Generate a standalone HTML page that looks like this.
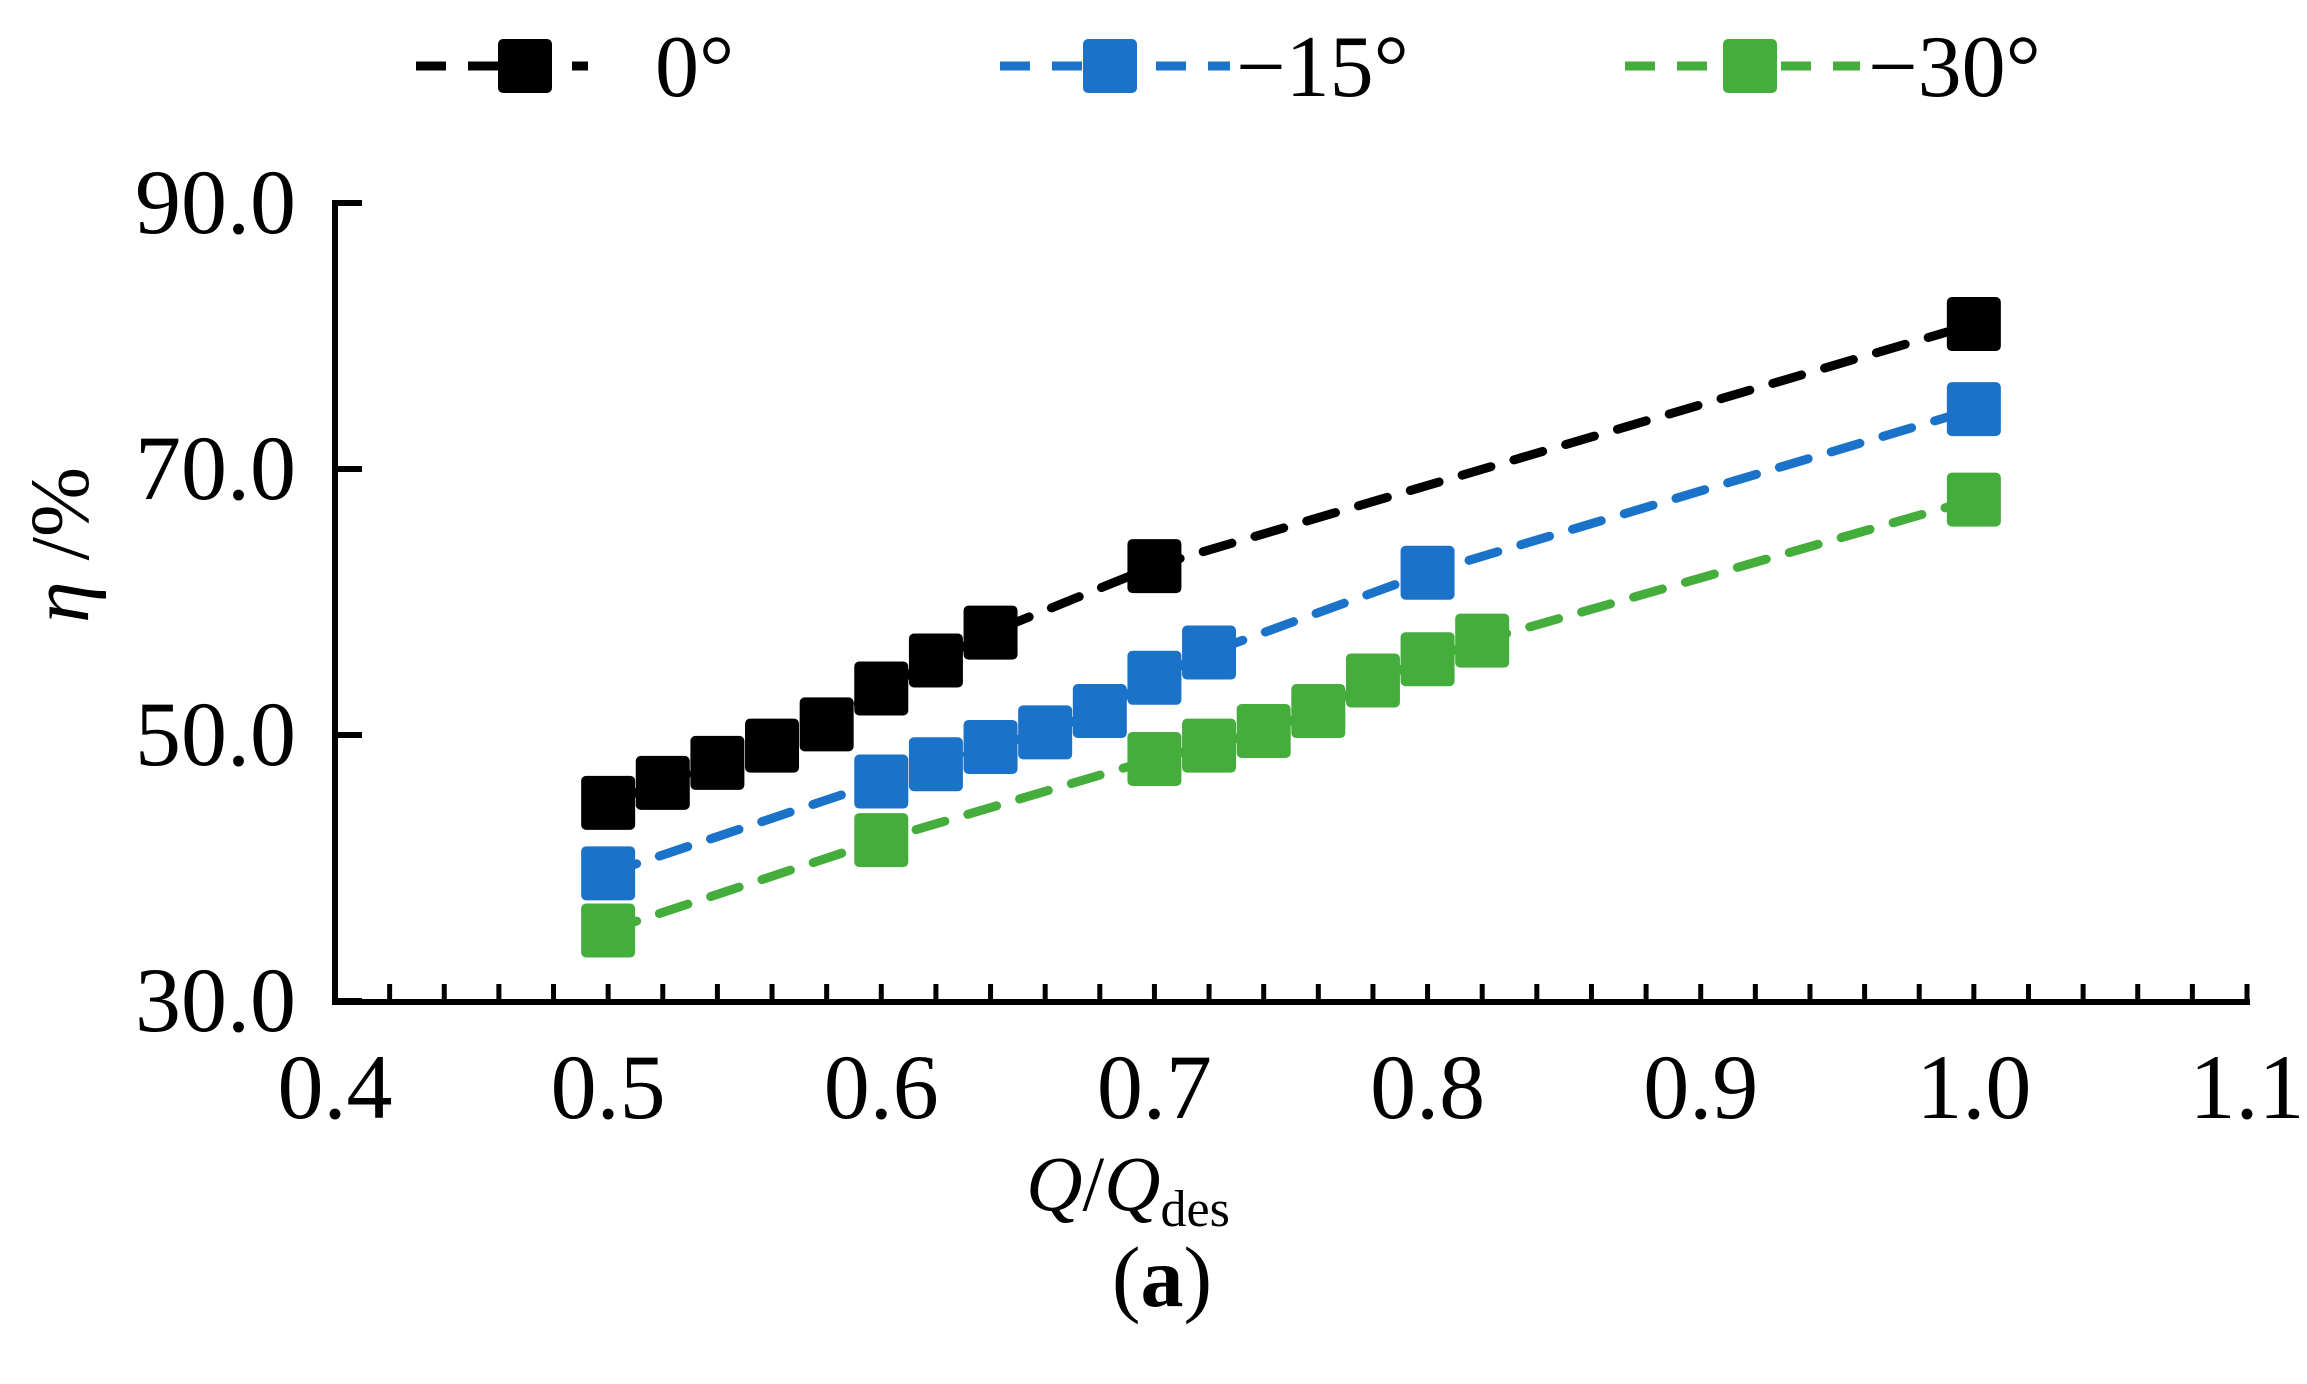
<!DOCTYPE html>
<html><head><meta charset="utf-8"><style>
html,body{margin:0;padding:0;background:#fff}
svg text{font-family:"Liberation Serif",serif}
</style></head><body>
<svg id="chart" width="2307" height="1379" viewBox="0 0 2307 1379" xmlns="http://www.w3.org/2000/svg">
<g id="axes"></g>
<g id="series"></g>
<g id="legend"></g>
<text x="1128" y="1210" font-size="78" text-anchor="middle"><tspan font-style="italic">Q</tspan>/<tspan font-style="italic">Q</tspan><tspan font-size="52" dy="16">des</tspan></text>
<text transform="translate(88,545) rotate(-90)" font-size="84" text-anchor="middle"><tspan font-style="italic">η</tspan> /%</text>
<text x="1162" y="1306" font-size="86" text-anchor="middle">(<tspan font-weight="bold">a</tspan>)</text>
</svg>
<script>
const xTicks = [0.4,0.5,0.6,0.7,0.8,0.9,1.0,1.1];
const xTickLabels = ["0.4","0.5","0.6","0.7","0.8","0.9","1.0","1.1"];
const yTicks = [30,50,70,90];
const yTickLabels = ["30.0","50.0","70.0","90.0"];
const seriesNames = ["0°","−15°","−30°"];
const seriesColors = ["#000000","#1a73c9","#44ad3b"];
const x0 = [0.5,0.52,0.54,0.56,0.58,0.6,0.62,0.64,0.7,1.0];
const y0 = [44.9,46.4,47.9,49.2,50.8,53.5,55.6,57.7,62.7,80.9];
const x15 = [0.5,0.6,0.62,0.64,0.66,0.68,0.7,0.72,0.8,1.0];
const y15 = [39.6,46.5,47.8,49.1,50.2,51.8,54.3,56.2,62.2,74.5];
const x30 = [0.5,0.6,0.7,0.72,0.74,0.76,0.78,0.8,0.82,1.0];
const y30 = [35.3,42.1,48.2,49.2,50.3,51.8,54.1,55.7,57.1,67.7];

const NS="http://www.w3.org/2000/svg";
const X = v => 335 + (v-0.4)/0.7*(2247-335);
const Y = v => 1001 - (v-30)/60*(1001-203);
function mk(tag, attrs, parent){const e=document.createElementNS(NS,tag);for(const k in attrs)e.setAttribute(k,attrs[k]);parent.appendChild(e);return e;}
const axes=document.getElementById('axes');
let e=mk('line',{x1:335,y1:200,x2:335,y2:1004,stroke:'#000','stroke-width':6},axes);


e=mk('line',{x1:332,y1:1002,x2:2250,y2:1002,stroke:'#000','stroke-width':6},axes);


yTicks.forEach((t,i)=>{
  const yl=mk('line',{x1:335,y1:Y(t),x2:362,y2:Y(t),stroke:'#000','stroke-width':6},axes);
  
  
  const tx=mk('text',{x:296,y:Y(t)+30,'font-size':92,'text-anchor':'end'},axes);
  tx.textContent=yTickLabels[i];
  
  
});
for(let k=1;k<=35;k++){
  const v=0.4+k*0.02;
  const tl=mk('line',{x1:X(v),y1:1002,x2:X(v),y2:984,stroke:'#000','stroke-width':5},axes);
  
  
}
xTicks.forEach((t,i)=>{
  const tx=mk('text',{x:X(t),y:1118,'font-size':92,'text-anchor':'middle'},axes);
  tx.textContent=xTickLabels[i];
  
  
});
const ser=document.getElementById('series');
const all=[[x0,y0],[x15,y15],[x30,y30]];
all.forEach((s,si)=>{
  const g=mk('g',{},ser);
  
  
  const pts=s[0].map((x,i)=>X(x)+','+Y(s[1][i])).join(' ');
  const pl=mk('polyline',{points:pts,fill:'none',stroke:seriesColors[si],'stroke-width':9,'stroke-dasharray':'30 24','stroke-linecap':'round'},g);
  
  
  s[0].forEach((x,i)=>{
    const r=mk('rect',{x:X(x)-27,y:Y(s[1][i])-27,width:54,height:54,rx:5,fill:seriesColors[si]},g);
    
    
  });
});
const leg=document.getElementById('legend');
const lx1=[416,1000,1625];
const lx2=[588,1230,1860];
const mx=[525,1110,1750];
const tx=[655,1236,1868];
seriesNames.forEach((n,i)=>{
  const g=mk('g',{},leg);
  
  
  mk('line',{x1:lx1[i],y1:66,x2:lx2[i],y2:66,stroke:seriesColors[i],'stroke-width':9,'stroke-dasharray':'30 22'},g);
  mk('rect',{x:mx[i]-27,y:39,width:54,height:54,rx:5,fill:seriesColors[i]},g);
  const t=mk('text',{x:tx[i],y:96,'font-size':88},g);
  t.textContent=n;
});
</script>
</body></html>
